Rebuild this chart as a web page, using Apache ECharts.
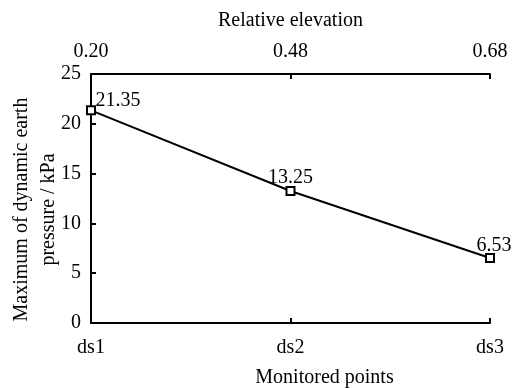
<!DOCTYPE html>
<html>
<head>
<meta charset="utf-8">
<style>
  html, body { margin: 0; padding: 0; background: #fff; }
  #chart { width: 515px; height: 388px; }
</style>
<script src="https://cdn.jsdelivr.net/npm/echarts@6/dist/echarts.min.js"></script>
</head>
<body>
<div id="chart"></div>
<script>
// Monitored points along the bottom, their relative elevation along the top
const points = ['ds1', 'ds2', 'ds3'];
const elevations = ['0.20', '0.48', '0.68'];
// Peak dynamic earth pressure at each point (kPa)
const pressure = [21.35, 13.25, 6.53];
const labelOffsets = [[27, 8], [0, 5], [4, 6]];

const FONT = '"Liberation Serif", "Times New Roman", serif';
const SIZE = 20;

const chart = echarts.init(document.getElementById('chart'), null, { renderer: 'canvas' });

const axisLine = { show: true, lineStyle: { color: '#000', width: 2 } };
const axisTick = { show: true, inside: true, length: 5, lineStyle: { color: '#000', width: 2 } };

chart.setOption({
  animation: false,
  backgroundColor: '#fff',
  textStyle: { fontFamily: FONT, color: '#000' },
  grid: { left: 91, right: 25, top: 74, bottom: 65, containLabel: false, outerBoundsMode: 'none' },
  xAxis: [
    {
      type: 'category',
      position: 'bottom',
      data: points,
      boundaryGap: false,
      name: 'Monitored points',
      nameLocation: 'middle',
      nameGap: 45,
      nameMoveOverlap: false,
      nameTextStyle: { fontFamily: FONT, fontSize: SIZE, color: '#000', padding: [0, 0, 0, 68] },
      axisLine: axisLine,
      axisTick: axisTick,
      axisLabel: { fontFamily: FONT, fontSize: SIZE, color: '#000', margin: 15 },
      splitLine: { show: false }
    },
    {
      type: 'category',
      position: 'top',
      data: elevations,
      boundaryGap: false,
      name: 'Relative elevation',
      nameLocation: 'middle',
      nameGap: 43,
      nameMoveOverlap: false,
      nameTextStyle: { fontFamily: FONT, fontSize: SIZE, color: '#000' },
      axisLine: axisLine,
      axisTick: axisTick,
      axisLabel: { fontFamily: FONT, fontSize: SIZE, color: '#000', margin: 12 },
      splitLine: { show: false }
    }
  ],
  yAxis: {
    type: 'value',
    min: 0,
    max: 25,
    interval: 5,
    name: 'Maximum of dynamic earth\npressure / kPa',
    nameLocation: 'middle',
    nameGap: 29,
    nameMoveOverlap: false,
    nameTextStyle: { fontFamily: FONT, fontSize: SIZE, color: '#000', lineHeight: 27, padding: [0, 0, 0, -22] },
    axisLine: axisLine,
    axisTick: axisTick,
    axisLabel: { fontFamily: FONT, fontSize: SIZE, color: '#000', margin: 10 },
    splitLine: { show: false }
  },
  series: [
    {
      type: 'line',
      xAxisIndex: 0,
      data: pressure.map((v, i) => ({
        value: v,
        label: { offset: labelOffsets[i] }
      })),
      symbol: 'rect',
      symbolSize: 8,
      itemStyle: { color: '#fff', borderColor: '#000', borderWidth: 2 },
      lineStyle: { color: '#000', width: 2 },
      label: {
        show: true,
        position: 'top',
        distance: 3,
        fontFamily: FONT,
        fontSize: SIZE,
        color: '#000',
        formatter: p => p.value.toFixed(2)
      },
      z: 3
    }
  ]
});
</script>
</body>
</html>
